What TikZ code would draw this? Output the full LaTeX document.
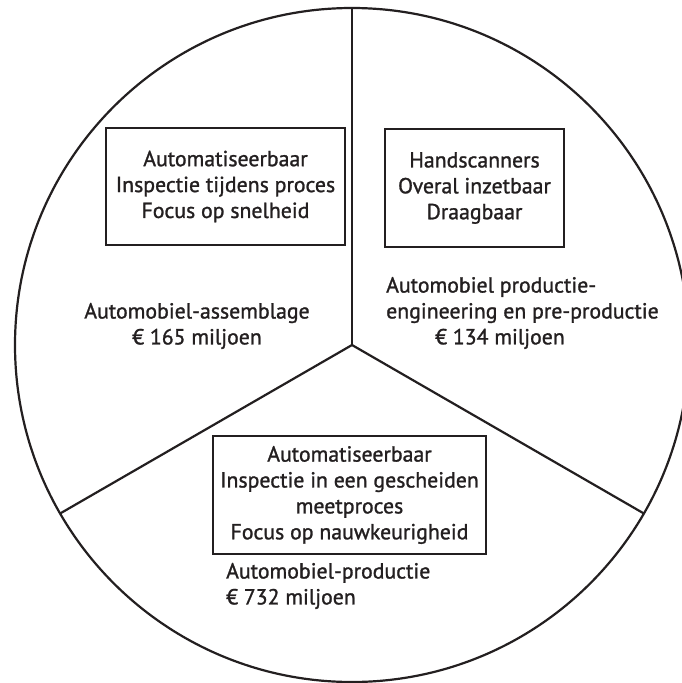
\documentclass[tikz,border=0pt]{standalone}
\usepackage{fontspec}
\setmainfont{PT Sans}
\newfontfamily\labelfont{PT Sans}[FakeBold=1.2]
\definecolor{ink}{HTML}{231F20}
\begin{document}
\begin{tikzpicture}[x=1pt,y=-1pt,
  divider/.style={draw=ink, line width=2.2pt},
  infobox/.style={draw=ink, line width=2.6pt, align=center, inner sep=0pt,
    text=ink, font=\labelfont\fontsize{21.8}{25.9}\selectfont},
  marketlabel/.style={text=ink, inner sep=0pt, font=\labelfont\fontsize{21.8}{25.9}\selectfont}]
  % page frame; the circle runs past the right edge and is cut there
  \useasboundingbox (0,0) rectangle (682,683);
  \fill[white] (0,0) rectangle (682,683);
  \clip (0,0) rectangle (682,683);

  % centre of the pie and the three points where the dividers meet the rim
  \coordinate (c) at (352,345);
  \coordinate (rimtop) at (352,8);
  \coordinate (rimleft) at (60.1,513.5);
  \coordinate (rimright) at (643.9,513.5);

  \draw[divider] (c) circle[radius=337];
  \draw[divider] (c) -- (rimtop);
  \draw[divider] (c) -- (rimleft);
  \draw[divider] (c) -- (rimright);

  % feature boxes
  \node[infobox, minimum width=239, minimum height=117] (assemblybox) at (225.5,186.5)
    {Automatiseerbaar\\Inspectie tijdens proces\\Focus op snelheid};
  \node[infobox, minimum width=179, minimum height=118] (scanbox) at (474.5,188)
    {Handscanners\\Overal inzetbaar\\Draagbaar};
  \node[infobox, minimum width=273, minimum height=118] (prodbox) at (349.5,495)
    {Automatiseerbaar\\Inspectie in een gescheiden\\meetproces\\ Focus op nauwkeurigheid};

  % market segments and their size
  \node[marketlabel, align=center] (assemblylabel) at (197,326)
    {Automobiel-assemblage\\€ 165 miljoen};
  \node[marketlabel, align=left, anchor=west] (englabel) at (386,313)
    {Automobiel productie-\\engineering en pre-productie\\\hspace*{49pt}€ 134 miljoen};
  \node[marketlabel, align=left, anchor=west] (prodlabel) at (226,586)
    {Automobiel-productie\\€ 732 miljoen};
\end{tikzpicture}
\end{document}
